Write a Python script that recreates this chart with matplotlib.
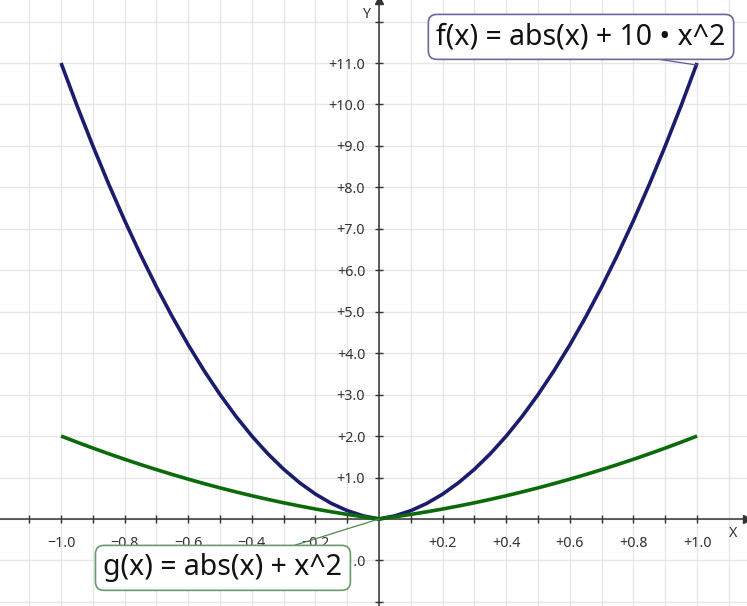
import matplotlib
matplotlib.use("Agg")
import matplotlib.pyplot as plt
from matplotlib.ticker import MultipleLocator, FixedLocator, FuncFormatter

plt.rcParams['font.family'] = ['Noto Sans', 'DejaVu Sans']

# sampled curve values (x step 0.05)
x_vals = [-1.0, -0.95, -0.9, -0.85, -0.8, -0.75, -0.7, -0.65, -0.6, -0.55, -0.5,
          -0.45, -0.4, -0.35, -0.3, -0.25, -0.2, -0.15, -0.1, -0.05, 0.0,
          0.05, 0.1, 0.15, 0.2, 0.25, 0.3, 0.35, 0.4, 0.45, 0.5,
          0.55, 0.6, 0.65, 0.7, 0.75, 0.8, 0.85, 0.9, 0.95, 1.0]
f_vals = [11.0, 9.975, 9.0, 8.075, 7.2, 6.375, 5.6, 4.875, 4.2, 3.575, 3.0,
          2.475, 2.0, 1.575, 1.2, 0.875, 0.6, 0.375, 0.2, 0.075, 0.0,
          0.075, 0.2, 0.375, 0.6, 0.875, 1.2, 1.575, 2.0, 2.475, 3.0,
          3.575, 4.2, 4.875, 5.6, 6.375, 7.2, 8.075, 9.0, 9.975, 11.0]
g_vals = [2.0, 1.8525, 1.71, 1.5725, 1.44, 1.3125, 1.19, 1.0725, 0.96, 0.8525, 0.75,
          0.6525, 0.56, 0.4725, 0.39, 0.3125, 0.24, 0.1725, 0.11, 0.0525, 0.0,
          0.0525, 0.11, 0.1725, 0.24, 0.3125, 0.39, 0.4725, 0.56, 0.6525, 0.75,
          0.8525, 0.96, 1.0725, 1.19, 1.3125, 1.44, 1.5725, 1.71, 1.8525, 2.0]

f_label = "f(x) = abs(x) + 10 \u2022 x^2"
g_label = "g(x) = abs(x) + x^2"

x_tick_labels = [-1.0, -0.8, -0.6, -0.4, -0.2, 0.2, 0.4, 0.6, 0.8, 1.0]
y_tick_values = [-2, -1, 1, 2, 3, 4, 5, 6, 7, 8, 9, 10, 11, 12]
y_tick_labels = [-1, 1, 2, 3, 4, 5, 6, 7, 8, 9, 10, 11]

fig = plt.figure(figsize=(7.47, 6.06), dpi=100)
ax = fig.add_axes([0, 0, 1, 1])
ax.set_xlim(-1.192, 1.157)
ax.set_ylim(-2.10, 12.52)

# grid
ax.set_axisbelow(True)
for xv in [i / 10 for i in range(-12, 12)]:
    ax.axvline(xv, color='#e6e6e6', lw=1.0, zorder=0)
for yv in range(-2, 13):
    ax.axhline(yv, color='#e6e6e6', lw=1.0, zorder=0)

# axes through origin
for s in ['top', 'right']:
    ax.spines[s].set_visible(False)
ax.spines['left'].set_position(('data', 0))
ax.spines['bottom'].set_position(('data', 0))
for s in ['left', 'bottom']:
    ax.spines[s].set_color('#333333')
    ax.spines[s].set_linewidth(1.1)
ax.plot(1, 0, '>', color='#333333', ms=6, transform=ax.get_yaxis_transform(), clip_on=False)
ax.plot(0, 1, '^', color='#333333', ms=6, transform=ax.get_xaxis_transform(), clip_on=False)

ax.xaxis.set_major_locator(FixedLocator(x_tick_labels))
ax.xaxis.set_minor_locator(FixedLocator([i / 10 for i in range(-11, 11) if i != 0]))
ax.yaxis.set_major_locator(FixedLocator(y_tick_values))
fmt_x = FuncFormatter(lambda v, p: ('+' if v > 0 else '\u2212') + f"{abs(v):.1f}")
fmt_y = FuncFormatter(lambda v, p: (('+' if v > 0 else '\u2212') + f"{abs(v):.1f}")
                      if round(v) in y_tick_labels else '')
ax.xaxis.set_major_formatter(fmt_x)
ax.yaxis.set_major_formatter(fmt_y)
ax.tick_params(axis='both', which='both', direction='inout', length=6, width=1,
               color='#333333', labelcolor='#333333', labelsize=10.3)
ax.tick_params(axis='x', pad=9)
ax.tick_params(axis='y', pad=7)

ax.text(1.113, -0.34, 'X', fontsize=10.3, color='#333333', ha='center', va='center')
ax.text(-0.04, 12.18, 'Y', fontsize=10.3, color='#333333', ha='center', va='center')

# curves
ax.plot(x_vals, f_vals, color='#1c1c6e', lw=2.6, zorder=3, solid_capstyle='butt')
ax.plot(x_vals, g_vals, color='#0b6b0b', lw=2.6, zorder=3, solid_capstyle='butt')

# labels with leader lines
ax.plot([0.87, 1.0], [11.1, 10.95], color='#5c5c8c', lw=0.9, zorder=4)
ax.plot([-0.28, 0.0], [-0.67, 0.0], color='#4c8a4c', lw=0.9, zorder=4)
ax.text(0.635, 11.63, f_label, fontsize=20.5, color='#111111', ha='center', va='center', zorder=5,
        bbox=dict(boxstyle='round,pad=0.28,rounding_size=0.3', fc='white', ec='#6a6a9a', lw=1.2))
ax.text(-0.491, -1.18, g_label, fontsize=20.5, color='#111111', ha='center', va='center', zorder=5,
        bbox=dict(boxstyle='round,pad=0.28,rounding_size=0.3', fc='white', ec='#6a9a6a', lw=1.2))

fig.savefig('out.png', dpi=100)
